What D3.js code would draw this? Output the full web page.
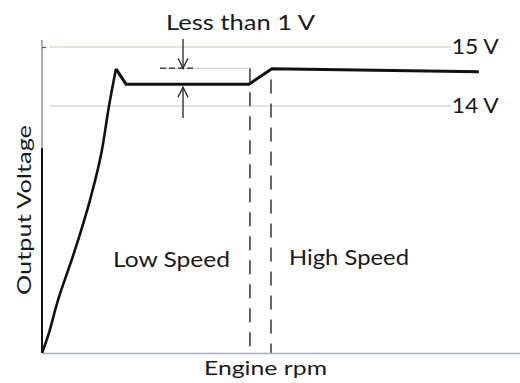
<!DOCTYPE html>
<html>
<head>
<meta charset="utf-8">
<script src="https://cdn.jsdelivr.net/npm/d3@7"></script>
<style>
  html, body { margin: 0; padding: 0; background: #fff; }
  svg { display: block; }
  text { font-family: Lato, "Open Sans", sans-serif; fill: #1a1a1a; }
</style>
</head>
<body>
<svg id="chart" width="520" height="383"></svg>
<script>
// Alternator output voltage vs engine speed (schematic), rpm in % of range
const riseRpm   = [0, 1.45, 3.35, 6.9, 10.04, 12.34, 14.02, 15.48];
const riseVolts = [0, 1.13, 3.0, 5.84, 8.67, 11.22, 14.0, 14.63];
const regRpm    = [15.48, 17.57, 43.3, 48.1, 91.4];
const regVolts  = [14.63, 14.37, 14.37, 14.63, 14.58];

const refLines   = [15, 14];           // reference voltage levels
const refLabels  = ["15 V", "14 V"];
const switchRpm  = [43.5, 47.9];       // low/high speed changeover
const switchTop  = [14.64, 14.45];
const bracketRpm = 29.5;               // "Less than 1 V" bracket
const upperLevel = 14.64;
const lowerLevel = 14.37;

const svg = d3.select("#chart");

const x = d3.scaleLinear().domain([0, 100]).range([42, 520]);
// broken scale: 0..14 V compressed, 14..15 V expanded
const y = d3.scaleLinear().domain([0, 14, 15]).range([353, 106, 47]);

// reference voltage lines
svg.selectAll("line.ref").data(refLines).join("line")
  .attr("class", "ref")
  .attr("x1", x(1.6)).attr("x2", x(85.5))
  .attr("y1", d => y(d)).attr("y2", d => y(d))
  .attr("stroke", (d, i) => i === 0 ? "#cfc9b4" : "#c7bfd0")
  .attr("stroke-width", 1.2);

svg.selectAll("text.ref").data(refLabels).join("text")
  .attr("class", "ref")
  .attr("x", x(85.7)).attr("y", (d, i) => y(refLines[i]) + 7)
  .attr("font-size", 21)
  .attr("textLength", 47).attr("lengthAdjust", "spacingAndGlyphs")
  .text(d => d);

// upper bracket level line
svg.append("line")
  .attr("x1", x(24.7)).attr("x2", x(43.1))
  .attr("y1", y(upperLevel)).attr("y2", y(upperLevel))
  .attr("stroke", "#c9c9c9").attr("stroke-width", 1.2);
svg.append("line")
  .attr("x1", x(24.7)).attr("x2", x(32.2))
  .attr("y1", y(upperLevel)).attr("y2", y(upperLevel))
  .attr("stroke", "#444").attr("stroke-width", 1.3)
  .attr("stroke-dasharray", "6,3");

// changeover dashed lines
svg.selectAll("line.switch").data(switchRpm).join("line")
  .attr("class", "switch")
  .attr("x1", d => x(d)).attr("x2", d => x(d))
  .attr("y1", (d, i) => y(switchTop[i])).attr("y2", y(0))
  .attr("stroke", "#333").attr("stroke-width", 1.5)
  .attr("stroke-dasharray", "14,10");

// axes
const yAxis = svg.append("g").attr("transform", `translate(${x(0)},0)`)
  .call(d3.axisLeft(y).tickValues([15]).tickSize(-4).tickFormat(""));
yAxis.select(".domain").attr("d", `M0,${y(15.12)}V${y(0)}`)
  .attr("stroke", "#777").attr("stroke-width", 1.2);
yAxis.selectAll(".tick line").attr("stroke", "#555").attr("stroke-width", 1.2);
svg.append("line")
  .attr("x1", x(0)).attr("x2", x(0))
  .attr("y1", y(11.6)).attr("y2", y(0))
  .attr("stroke", "#111").attr("stroke-width", 2);

const xAxis = svg.append("g").attr("transform", `translate(0,${y(0)})`)
  .call(d3.axisBottom(x).tickValues([]).tickSizeOuter(0));
xAxis.select(".domain").attr("stroke", "#9fb1bf").attr("stroke-width", 1.6);

// output voltage curve: smooth rise, then regulated segment
svg.append("path")
  .datum(d3.zip(riseRpm, riseVolts))
  .attr("d", d3.line().x(d => x(d[0])).y(d => y(d[1])).curve(d3.curveCatmullRom.alpha(0.5)))
  .attr("fill", "none").attr("stroke", "#111").attr("stroke-width", 2.6)
  .attr("stroke-linejoin", "round");
svg.append("path")
  .datum(d3.zip(regRpm, regVolts))
  .attr("d", d3.line().x(d => x(d[0])).y(d => y(d[1])))
  .attr("fill", "none").attr("stroke", "#111").attr("stroke-width", 3)
  .attr("stroke-linejoin", "miter");

// bracket arrows
const ax = x(bracketRpm);
const arrow = (yFrom, yTip) => {
  const dir = Math.sign(yTip - yFrom);
  svg.append("line")
    .attr("x1", ax).attr("x2", ax).attr("y1", yFrom).attr("y2", yTip)
    .attr("stroke", "#222").attr("stroke-width", 1.3);
  svg.append("path")
    .attr("d", `M${ax - 5},${yTip - dir * 10}L${ax},${yTip}L${ax + 5},${yTip - dir * 10}`)
    .attr("fill", "none").attr("stroke", "#222").attr("stroke-width", 1.3);
};
arrow(39, y(upperLevel));
arrow(118, y(lowerLevel) + 3);

// annotations
svg.append("text").attr("x", 166).attr("y", 30)
  .attr("font-size", 21).attr("textLength", 149).attr("lengthAdjust", "spacingAndGlyphs")
  .text("Less than 1 V");
svg.append("text").attr("x", 113).attr("y", 267)
  .attr("font-size", 21).attr("textLength", 117).attr("lengthAdjust", "spacingAndGlyphs")
  .text("Low Speed");
svg.append("text").attr("x", 289).attr("y", 265)
  .attr("font-size", 21).attr("textLength", 120).attr("lengthAdjust", "spacingAndGlyphs")
  .text("High Speed");
svg.append("text").attr("x", 204).attr("y", 375)
  .attr("font-size", 20).attr("textLength", 123).attr("lengthAdjust", "spacingAndGlyphs")
  .text("Engine rpm");
svg.append("text")
  .attr("transform", "translate(31,295) rotate(-90)")
  .attr("font-size", 20).attr("textLength", 170).attr("lengthAdjust", "spacingAndGlyphs")
  .text("Output Voltage");
</script>
</body>
</html>
